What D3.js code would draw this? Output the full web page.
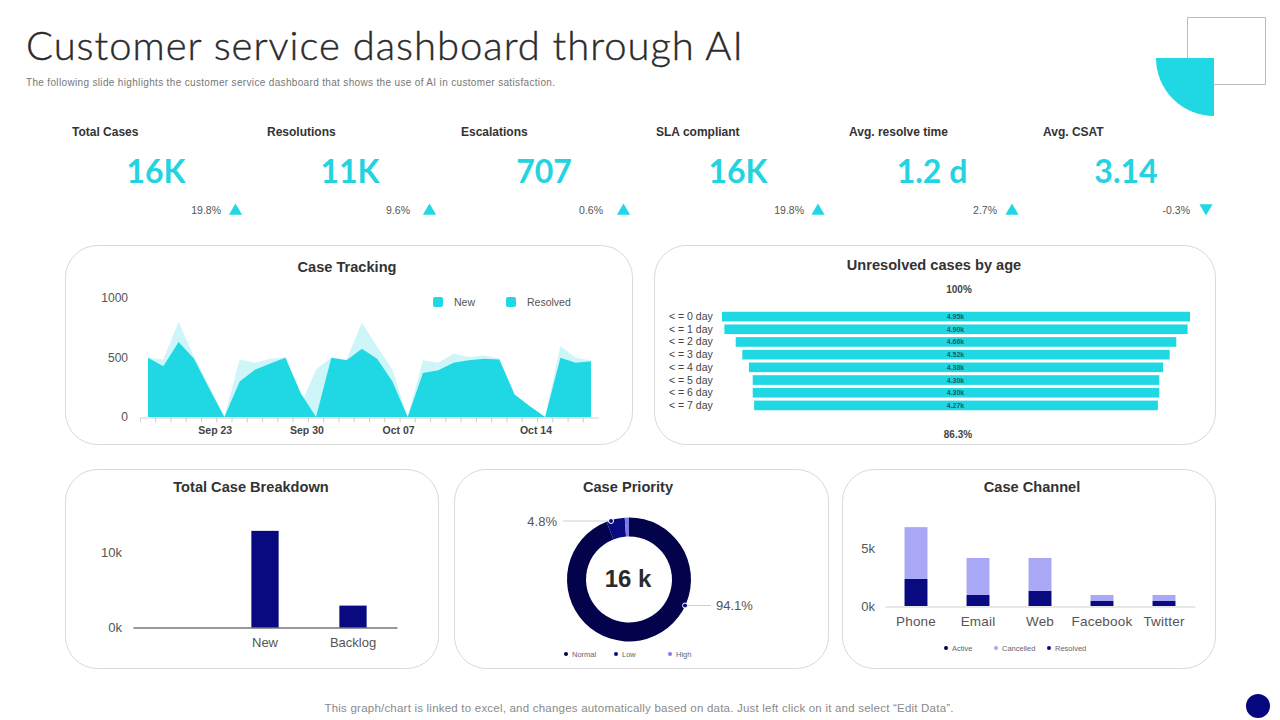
<!DOCTYPE html>
<html>
<head>
<meta charset="utf-8">
<script src="https://cdn.jsdelivr.net/npm/d3@7"></script>
<style>
html, body { margin: 0; padding: 0; background: #fff; }
svg { display: block; }
text { font-family: "Liberation Sans", Arial, sans-serif; }
.card { fill: #fff; stroke: #d9d9d9; stroke-width: 1; }
.cardTitle { font-size: 14.6px; font-weight: bold; fill: #333; text-anchor: middle; }
</style>
</head>
<body>
<svg id="myGraph" width="1280" height="720"></svg>
<script>
// KPI row
var kpiNames = ["Total Cases", "Resolutions", "Escalations", "SLA compliant", "Avg. resolve time", "Avg. CSAT"];
var kpiValues = ["16K", "11K", "707", "16K", "1.2 d", "3.14"];
var kpiDeltas = ["19.8%", "9.6%", "0.6%", "19.8%", "2.7%", "-0.3%"];
var kpiUp = [true, true, true, true, true, false];

// Case Tracking
var trackResolved = [497, 426, 630, 491, 241, 0, 298, 398, 449, 497, 199, 0, 497, 477, 574, 489, 298, 0, 369, 392, 455, 477, 489, 483, 190, 91, 0, 497, 455, 469];
var trackNew = [497, 483, 800, 510, 260, 0, 483, 455, 489, 503, 100, 400, 500, 483, 795, 590, 400, 0, 477, 455, 534, 505, 517, 491, 190, 91, 0, 597, 497, 475];
var trackTickIndex = [5, 11, 17, 26];
var trackTickLabels = ["Sep 23", "Sep 30", "Oct 07", "Oct 14"];
var trackYTicks = [0, 500, 1000];

// Unresolved cases by age
var ageLabels = ["< = 0 day", "< = 1 day", "< = 2 day", "< = 3 day", "< = 4 day", "< = 5 day", "< = 6 day", "< = 7 day"];
var ageValues = [4.95, 4.90, 4.66, 4.52, 4.38, 4.30, 4.30, 4.27];

// Total Case Breakdown
var breakdownCats = ["", "New", "Backlog"];
var breakdownValues = [0, 12800, 2900];

// Case Priority
var priorityNames = ["Normal", "Low", "High"];
var priorityValues = [94.1, 4.8, 1.1];
var priorityColors = ["#03034c", "#0a0a80", "#7b7be6"];

// Case Channel
var channelCats = ["Phone", "Email", "Web", "Facebook", "Twitter"];
var channelResolved = [2330, 950, 1300, 430, 430];
var channelCancelled = [4470, 3190, 2840, 520, 520];
var channelActive = [0, 0, 0, 0, 0];

var teal = "#20d7e4";
var navy = "#0a0a80";
var svg = d3.select("#myGraph");

function label(x, y, txt, size, color, anchor, weight) {
    return svg.append("text").attr("x", x).attr("y", y).text(txt)
        .style("font-size", size + "px").attr("fill", color)
        .attr("text-anchor", anchor || "start")
        .attr("font-weight", weight || "normal");
}

// corner decoration
svg.append("rect").attr("x", 1187.5).attr("y", 17.5).attr("width", 78).attr("height", 67)
    .attr("fill", "none").attr("stroke", "#bdbdbd");
svg.append("path").attr("transform", "translate(1214,58)")
    .attr("d", d3.arc()({ innerRadius: 0, outerRadius: 58, startAngle: Math.PI, endAngle: 1.5 * Math.PI }))
    .attr("fill", teal);

// header
label(26, 60, "Customer service dashboard through AI", 40, "#2b2b2b", "start", 300).style("font-family", "Lato")
    .attr("stroke", "#2b2b2b").attr("stroke-width", 0.4)
    .attr("textLength", 717).attr("lengthAdjust", "spacing");
label(26, 86, "The following slide highlights the customer service dashboard that shows the use of AI in customer satisfaction.", 10, "#777")
    .attr("textLength", 529).attr("lengthAdjust", "spacing");

// KPI row
var kpiLabelX = [72, 267, 461, 656, 849, 1043];
var kpiMidX = [156, 350, 544, 738, 932, 1126];
var kpiDeltaX = [221, 410, 603, 804, 997, 1190];
var kpiTriX = [235.5, 429.5, 623.5, 818, 1012, 1206];
var triangle = d3.symbol().type(d3.symbolTriangle).size(75);
kpiNames.forEach(function(name, i) {
    label(kpiLabelX[i], 135.5, name, 12, "#333", "start", "bold");
    label(kpiMidX[i], 183, kpiValues[i], 32, "#24d3e0", "middle", "bold").style("font-family", "Lato");
    label(kpiDeltaX[i], 214, kpiDeltas[i], 10.5, "#555", "end");
    svg.append("path").attr("d", triangle)
        .attr("transform", kpiUp[i] ? "translate(" + kpiTriX[i] + ",211)" : "translate(" + kpiTriX[i] + ",208) rotate(180)")
        .attr("fill", teal);
});

// cards
var cards = [[66, 246, 566, 198], [655, 246, 560, 198], [66, 470, 372, 198], [455, 470, 373, 198], [843, 470, 372, 198]];
svg.selectAll("rect.card").data(cards).enter().append("rect").attr("class", "card")
    .attr("x", function(d) { return d[0] - 0.5; })
    .attr("y", function(d) { return d[1] - 0.5; })
    .attr("width", function(d) { return d[2] + 1; })
    .attr("height", function(d) { return d[3] + 1; })
    .attr("rx", 32).attr("ry", 32);

function cardTitle(x, y, txt) {
    svg.append("text").attr("class", "cardTitle").attr("x", x).attr("y", y).text(txt);
}
cardTitle(347, 272, "Case Tracking");
cardTitle(934, 270, "Unresolved cases by age");
cardTitle(251, 492, "Total Case Breakdown");
cardTitle(628, 492, "Case Priority");
cardTitle(1032, 492, "Case Channel");

// Case Tracking
var trackX = d3.scaleBand().domain(d3.range(trackNew.length)).range([140.4, 598.6]);
var trackY = d3.scaleLinear().domain([0, 1000]).range([417, 298]);
function trackArea(values) {
    return d3.area()
        .x(function(d, i) { return trackX(i) + trackX.bandwidth() / 2; })
        .y0(trackY(0))
        .y1(function(d) { return trackY(d); })(values);
}
svg.append("path").attr("d", trackArea(trackNew)).attr("fill", teal).attr("fill-opacity", 0.22);
svg.append("path").attr("d", trackArea(trackResolved)).attr("fill", teal);

var trackXAxis = svg.append("g").attr("transform", "translate(0,417.5)")
    .call(d3.axisBottom(trackX).tickSizeOuter(0).tickSizeInner(5).tickFormat(""));
trackXAxis.select(".domain").attr("stroke", "#d0d0d0");
trackXAxis.selectAll(".tick line").attr("stroke", "#d0d0d0")
    .attr("transform", "translate(" + (-trackX.step() / 2) + ",0)");
trackTickIndex.forEach(function(idx, i) {
    label(trackX(idx) - 1.5, 434, trackTickLabels[i], 10.5, "#444", "middle", "bold");
});
var trackYAxis = svg.append("g").attr("transform", "translate(128,0)")
    .call(d3.axisLeft(trackY).tickValues(trackYTicks).tickSize(0).tickPadding(0).tickFormat(d3.format("d")));
trackYAxis.select(".domain").remove();
trackYAxis.selectAll("text").style("font-size", "12px").attr("fill", "#555");

svg.append("rect").attr("x", 433).attr("y", 297).attr("width", 10).attr("height", 10).attr("rx", 2).attr("fill", teal);
label(454, 306, "New", 10.5, "#555");
svg.append("rect").attr("x", 506).attr("y", 297).attr("width", 10).attr("height", 10).attr("rx", 2).attr("fill", teal);
label(527, 306, "Resolved", 10.5, "#555");

// Unresolved cases by age
var ageY = d3.scaleBand().domain(ageLabels).range([310.5, 411.5]).paddingInner(0.24).paddingOuter(0.1);
var ageW = d3.scaleLinear().domain([0, 4.95]).range([0, 468]);
var funnelMid = 956;
svg.selectAll("rect.age").data(ageValues).enter().append("rect").attr("class", "age")
    .attr("x", function(d) { return funnelMid - ageW(d) / 2; })
    .attr("y", function(d, i) { return ageY(ageLabels[i]); })
    .attr("width", function(d) { return ageW(d); })
    .attr("height", ageY.bandwidth())
    .attr("fill", teal);
svg.selectAll("text.ageValue").data(ageValues).enter().append("text").attr("class", "ageValue")
    .attr("x", 955.5)
    .attr("y", function(d, i) { return ageY(ageLabels[i]) + ageY.bandwidth() / 2 + 2.5; })
    .attr("text-anchor", "middle").attr("font-weight", "bold").attr("fill", "#1c5a68")
    .style("font-size", "7px")
    .text(function(d) { return d.toFixed(2) + "k"; });
svg.selectAll("text.ageLabel").data(ageLabels).enter().append("text").attr("class", "ageLabel")
    .attr("x", 669)
    .attr("y", function(d) { return ageY(d) + ageY.bandwidth() / 2 + 3.5; })
    .attr("fill", "#444").style("font-size", "10.5px")
    .text(function(d) { return d; });
label(959, 293, "100%", 10, "#444", "middle", "bold");
label(958, 438, "86.3%", 10, "#444", "middle", "bold");

// Total Case Breakdown
var breakX = d3.scaleBand().domain(breakdownCats).range([133, 397]).paddingInner(0.69).paddingOuter(0.345);
var breakY = d3.scaleLinear().domain([0, 10000]).range([627.5, 552]);
svg.selectAll("rect.breakdown").data(breakdownValues).enter().append("rect").attr("class", "breakdown")
    .attr("x", function(d, i) { return breakX(breakdownCats[i]); })
    .attr("y", function(d) { return breakY(d); })
    .attr("width", breakX.bandwidth())
    .attr("height", function(d) { return breakY(0) - breakY(d); })
    .attr("fill", navy);
var breakXAxis = svg.append("g").attr("transform", "translate(0,627.5)")
    .call(d3.axisBottom(breakX).tickSize(0).tickPadding(10));
breakXAxis.select(".domain").attr("stroke", "#333");
breakXAxis.selectAll("text").style("font-size", "13px").attr("fill", "#555");
var breakYAxis = svg.append("g").attr("transform", "translate(122,0)")
    .call(d3.axisLeft(breakY).tickValues([0, 10000]).tickSize(0).tickPadding(0)
        .tickFormat(function(d) { return (d / 1000) + "k"; }));
breakYAxis.select(".domain").remove();
breakYAxis.selectAll("text").style("font-size", "13px").attr("fill", "#555");

// Case Priority
var pie = d3.pie().sort(null)(priorityValues);
var donutArc = d3.arc().innerRadius(43).outerRadius(62);
var donut = svg.append("g").attr("transform", "translate(629,579.5)");
donut.selectAll("path").data(pie).enter().append("path")
    .attr("d", donutArc)
    .attr("fill", function(d, i) { return priorityColors[i]; });
label(628, 587, "16 k", 24, "#2b2b2b", "middle", "bold");
svg.append("line").attr("x1", 563).attr("x2", 609).attr("y1", 521).attr("y2", 521).attr("stroke", "#cfcfcf");
svg.append("line").attr("x1", 688).attr("x2", 711).attr("y1", 605.5).attr("y2", 605.5).attr("stroke", "#cfcfcf");
svg.append("circle").attr("cx", 611).attr("cy", 521).attr("r", 2.5).attr("fill", navy).attr("stroke", "#fff");
svg.append("circle").attr("cx", 685).attr("cy", 605.5).attr("r", 2.5).attr("fill", navy).attr("stroke", "#fff");
label(557, 526, "4.8%", 13, "#555", "end");
label(716, 610, "94.1%", 13, "#555");
var priorityLegendX = [566, 616, 670];
priorityNames.forEach(function(name, i) {
    svg.append("circle").attr("cx", priorityLegendX[i]).attr("cy", 654).attr("r", 2).attr("fill", priorityColors[i]);
    label(priorityLegendX[i] + 6, 657, name, 7.5, "#666");
});

// Case Channel
var channelRows = channelCats.map(function(c, i) {
    return { cat: c, Resolved: channelResolved[i], Cancelled: channelCancelled[i], Active: channelActive[i] };
});
var channelKeys = ["Resolved", "Cancelled", "Active"];
var channelColors = { Resolved: navy, Cancelled: "#a8a8f6", Active: "#03034c" };
var channelX = d3.scaleBand().domain(channelCats).range([885, 1195]).paddingInner(0.63).paddingOuter(0.315);
var channelY = d3.scaleLinear().domain([0, 5000]).range([606, 548]);
svg.selectAll("g.channel").data(d3.stack().keys(channelKeys)(channelRows)).enter().append("g").attr("class", "channel")
    .attr("fill", function(d) { return channelColors[d.key]; })
    .selectAll("rect").data(function(d) { return d; }).enter().append("rect")
    .attr("x", function(d) { return channelX(d.data.cat); })
    .attr("y", function(d) { return channelY(d[1]); })
    .attr("width", channelX.bandwidth())
    .attr("height", function(d) { return channelY(d[0]) - channelY(d[1]); });
var channelXAxis = svg.append("g").attr("transform", "translate(0,606.5)")
    .call(d3.axisBottom(channelX).tickSize(0).tickPadding(10));
channelXAxis.select(".domain").attr("stroke", "#d0d0d0");
channelXAxis.selectAll("text").style("font-size", "13.5px").style("letter-spacing", "0.2px").attr("fill", "#555");
var channelYAxis = svg.append("g").attr("transform", "translate(875,0)")
    .call(d3.axisLeft(channelY).tickValues([0, 5000]).tickSize(0).tickPadding(0)
        .tickFormat(function(d) { return (d / 1000) + "k"; }));
channelYAxis.select(".domain").remove();
channelYAxis.selectAll("text").style("font-size", "13px").attr("fill", "#555");
var channelLegendX = [946, 996, 1049];
["Active", "Cancelled", "Resolved"].forEach(function(name, i) {
    svg.append("circle").attr("cx", channelLegendX[i]).attr("cy", 648).attr("r", 2)
        .attr("fill", i == 2 ? "#0a0a80" : channelColors[name]);
    label(channelLegendX[i] + 6, 651, name, 7.5, "#666");
});

// footer
label(639, 712, "This graph/chart is linked to excel,  and changes automatically based on data. Just left click on it and select \u201CEdit Data\u201D.", 11.5, "#8a8a8a", "middle")
    .attr("textLength", 629).attr("lengthAdjust", "spacing");
svg.append("circle").attr("cx", 1258).attr("cy", 706).attr("r", 12).attr("fill", "#06067e");
</script>
</body>
</html>
